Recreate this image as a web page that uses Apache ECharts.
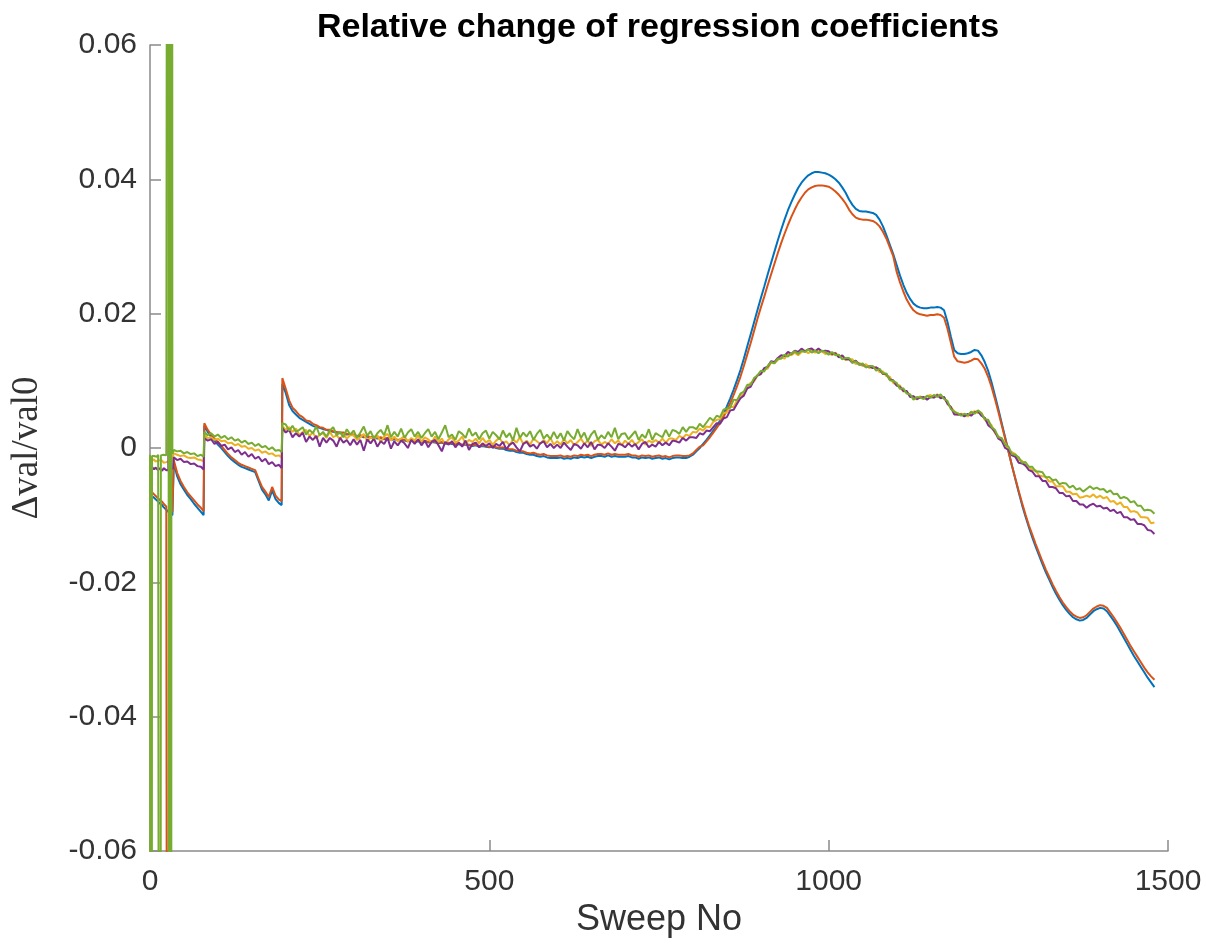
<!DOCTYPE html>
<html>
<head>
<meta charset="utf-8">
<title>Relative change of regression coefficients</title>
<script src="https://cdn.jsdelivr.net/npm/echarts@6/dist/echarts.min.js"></script>
<style>
  html, body { margin: 0; padding: 0; background: #fff; }
  #chart { width: 1206px; height: 949px; }
</style>
</head>
<body>
<div id="chart"></div>
<script>
// Coefficient values are stored in units of 1e-4 (relative change).
const UNIT = 1e-4;

function span(from, to, step) {
  const out = [];
  for (let s = from; s <= to; s += step) out.push(s);
  return out;
}

// Sweep numbers at which the coefficients were sampled
const sweepNo = [
  0, 1, 2, 3, 4, 6, 8, 10, 12, 14, 15, 16, 18, 20, 22, 24, 26, 27, 28, 29, 30, 31, 32, 33, 34,
  ...span(35, 75, 5), 79,
  ...span(80, 190, 5), 194,
  195, ...span(200, 1480, 5)
];

const coefBlue = [
  -68,-70,-69,-72,-71,-74,-75,-78,-79,-82,-82,-84,-85,-88,-89,-92,-93,-95,-95,-97,-98,-97,-99,-100,-101,
  -22,-42,-54,-62,-70,-76,-83,-89,-95,-100,
  33,24,17,11,5,0,-6,-12,-17,-21,-25,-28,-30,-32,-34,-36,-49,-62,-69,-78,-63,-76,-82,-85,
  95,
  82,64,55,50,45,42,39,36,33,31,30,28,27,25,24,23,22,22,20,20,
  19,17,18,16,17,15,16,14,15,13,14,12,13,12,12,11,10,11,9,10,
  9,10,8,9,8,7,8,6,7,6,5,6,4,5,4,3,4,2,3,2,
  1,2,0,-1,-1,-3,-4,-4,-6,-7,-7,-9,-10,-10,-12,-13,-12,-14,-15,-15,
  -15,-14,-16,-15,-16,-14,-15,-13,-14,-13,-15,-13,-12,-12,-13,-11,-13,-12,-13,-13,
  -13,-12,-14,-14,-16,-14,-15,-14,-16,-15,-14,-16,-15,-17,-15,-14,-14,-15,-15,-13,
  -10,-5,0,6,12,19,26,33,41,51,62,74,87,101,116,133,151,169,187,205,
  223,240,258,275,292,309,325,340,354,366,377,387,395,401,406,409,411,411,410,409,
  407,404,400,395,388,380,370,362,356,353,352,352,351,350,347,340,330,317,303,289,
  273,257,243,231,222,215,211,209,208,208,209,209,210,209,205,188,166,146,141,140,
  140,141,143,146,145,138,128,115,98,78,58,37,16,-5,-26,-46,-66,-85,-102,-118,
  -133,-147,-160,-173,-185,-196,-207,-217,-226,-234,-241,-247,-252,-255,-257,-256,-253,-248,-243,-240,
  -238,-239,-243,-250,-257,-265,-274,-283,-292,-301,-310,-318,-326,-334,-342,-349,-356
];

const coefOrange = [
  -63,-64,-65,-66,-66,-69,-70,-73,-74,-77,-77,-79,-80,-83,-84,-87,-88,-3000,-90,-92,-93,-92,-94,-95,-96,
  -18,-37,-49,-58,-66,-72,-78,-84,-89,-94,
  37,27,20,14,9,3,-3,-9,-14,-18,-22,-25,-27,-29,-31,-33,-46,-58,-65,-73,-58,-71,-77,-79,
  104,
  88,71,60,55,49,46,41,40,36,34,31,30,27,27,25,24,23,23,21,21,
  20,18,19,17,18,16,17,15,16,14,15,13,14,12,13,12,11,12,10,11,
  10,11,9,10,9,8,9,7,8,7,6,7,5,6,5,4,5,3,4,3,
  2,3,1,0,1,-1,-2,-2,-4,-5,-5,-7,-8,-7,-9,-10,-9,-11,-12,-12,
  -12,-11,-13,-12,-13,-11,-12,-10,-11,-10,-12,-10,-9,-9,-10,-8,-10,-9,-10,-10,
  -10,-9,-11,-11,-13,-11,-12,-11,-13,-12,-11,-13,-12,-14,-12,-11,-11,-12,-12,-11,
  -8,-3,2,4,10,16,23,30,37,46,56,67,79,92,106,122,139,156,174,192,
  209,225,242,258,274,290,305,319,332,344,355,365,373,380,385,388,390,391,391,390,
  389,386,382,377,371,364,355,348,343,341,340,340,339,338,335,330,322,312,299,286,
  263,247,233,221,212,205,201,199,198,197,198,198,199,198,194,178,157,136,129,128,
  127,128,130,133,132,126,118,106,91,73,54,34,14,-6,-26,-45,-64,-82,-99,-115,
  -129,-143,-156,-169,-181,-192,-203,-213,-222,-230,-237,-243,-248,-251,-253,-252,-249,-244,-239,-236,
  -234,-235,-238,-245,-252,-260,-268,-277,-286,-295,-303,-311,-319,-327,-334,-340,-345
];

const coefYellow = [
  -15,-17,-16,-19,-18,-17,-20,-18,-19,-21,-18,-20,-19,-22,-20,-21,-23,-20,-22,-21,-23,-22,-20,-22,-21,
  -8,-10,-12,-11,-14,-15,-14,-17,-18,-20,
  20,15,16,12,14,10,11,7,8,4,6,2,3,-1,0,-4,-2,-7,-5,-9,-8,-12,-11,-14,
  33,
  27,31,24,29,19,24,27,18,23,14,20,22,15,24,16,19,13,21,14,19,
  19,12,16,21,10,16,13,19,9,17,21,11,17,10,14,18,9,15,11,19,
  9,16,13,8,17,9,14,6,13,16,8,11,17,6,12,9,14,7,15,8,
  12,5,11,15,7,10,4,13,8,16,6,11,5,14,10,6,12,7,15,5,
  10,5,13,7,12,4,9,14,6,11,3,10,12,5,9,6,13,7,11,4,
  11,6,12,5,9,13,5,11,8,12,8,14,8,14,14,12,18,15,20,18,
  24,23,29,26,32,31,39,42,43,52,53,61,61,71,78,80,89,97,99,108,
  110,118,118,127,126,131,135,133,140,138,142,138,143,145,141,146,142,144,144,140,
  142,138,142,136,137,131,132,132,125,127,122,125,119,121,120,113,114,107,106,97,
  94,93,84,84,77,77,72,77,74,77,79,75,80,76,76,66,61,55,49,51,
  50,47,51,55,52,52,42,39,34,22,18,10,7,-3,-6,-9,-18,-19,-27,-28,
  -33,-33,-41,-42,-43,-50,-50,-57,-57,-57,-65,-65,-69,-68,-74,-73,-71,-73,-69,-74,
  -71,-75,-73,-80,-79,-84,-81,-88,-88,-95,-94,-96,-103,-103,-104,-112,-111
];

const coefPurple = [
  -27,-29,-31,-28,-30,-32,-29,-31,-33,-30,-32,-31,-34,-30,-32,-33,-31,-33,-32,510,-3000,-32,-31,-33,-30,
  -14,-18,-16,-21,-20,-24,-23,-27,-28,-32,
  15,11,13,6,9,3,5,-2,1,-6,-3,-10,-6,-13,-9,-16,-13,-20,-16,-24,-21,-27,-25,-30,
  30,
  23,27,16,22,17,23,9,17,12,18,2,15,8,15,11,2,15,8,12,4,
  13,5,12,-4,13,7,14,2,10,6,15,-1,10,4,11,7,0,12,6,13,
  4,11,1,9,12,4,-5,9,5,10,1,8,2,11,-3,6,8,1,7,3,
  7,0,6,3,9,-2,5,8,1,-5,6,9,2,5,-1,7,10,1,6,0,
  5,0,8,2,-3,6,4,-1,7,1,9,-2,5,4,0,7,2,-4,6,5,
  1,7,2,6,-2,6,9,1,5,2,9,4,8,4,11,10,8,15,11,16,
  16,15,22,20,26,25,31,37,36,44,46,56,57,66,74,78,89,91,101,108,
  110,119,121,129,128,134,138,137,143,140,145,143,148,144,147,148,144,148,144,145,
  144,140,141,135,138,132,132,127,130,124,125,120,122,119,120,117,110,110,102,101,
  93,91,85,85,76,77,73,75,76,72,76,75,79,74,76,66,61,50,50,50,
  47,51,48,53,55,48,45,34,30,24,14,11,0,-3,-11,-13,-22,-23,-26,-33,
  -35,-42,-42,-49,-49,-58,-58,-60,-67,-67,-72,-71,-79,-79,-84,-84,-89,-85,-83,-87,
  -86,-90,-89,-94,-92,-97,-95,-103,-103,-107,-106,-113,-113,-115,-122,-123,-128
];

const coefGreen = [
  -10,-11,-3000,-12,-10,-12,-11,-13,-10,-12,-3000,-11,-13,-10,-12,-11,-13,3000,-3000,-12,3000,-3000,3000,-9,-6,
  -3,-5,-4,-8,-6,-9,-8,-12,-10,-13,
  24,19,22,17,20,15,18,13,16,11,13,8,11,6,8,3,6,1,3,-2,1,-4,-3,-6,
  37,
  35,26,33,24,27,31,20,27,22,32,19,24,17,26,31,19,24,16,28,20,
  26,15,23,32,18,25,14,22,27,19,34,16,24,17,29,15,23,28,17,24,
  15,22,28,17,24,13,23,34,16,20,12,25,21,15,29,18,23,13,22,26,
  14,24,19,13,26,16,22,11,30,15,23,17,25,12,21,27,14,20,13,24,
  14,22,11,25,18,13,28,15,23,10,20,26,12,19,14,24,16,30,13,21,
  22,13,19,25,12,20,15,28,12,22,19,16,27,17,27,25,21,31,24,31,
  31,28,36,31,38,45,41,48,46,57,59,60,72,71,81,84,94,94,104,108,
  115,114,122,128,126,133,133,139,136,141,144,140,145,143,147,142,145,141,145,143,
  139,143,138,139,132,134,134,127,129,124,126,120,122,122,115,118,111,111,101,100,
  97,88,89,81,80,72,76,75,73,78,75,79,76,80,73,70,58,54,52,48,
  51,49,54,51,56,52,43,42,31,27,16,15,5,2,-9,-10,-14,-22,-21,-28,
  -28,-35,-35,-36,-44,-43,-48,-47,-54,-52,-53,-59,-56,-62,-60,-65,-61,-57,-61,-59,
  -62,-61,-66,-63,-69,-68,-75,-73,-75,-81,-79,-86,-86,-93,-92,-93,-98
];

const xTickLabels = ['0', '500', '1000', '1500'];
const yTickLabels = ['-0.06', '-0.04', '-0.02', '0', '0.02', '0.04', '0.06'];

const lineColors = ['#0072BD', '#D95319', '#EDB120', '#7E2F8E', '#77AC30'];
const coefSeries = [coefBlue, coefOrange, coefYellow, coefPurple, coefGreen];

coefSeries.forEach((arr, k) => {
  if (arr.length !== sweepNo.length) {
    throw new Error('series ' + k + ' has ' + arr.length + ' values, expected ' + sweepNo.length);
  }
});

const axisGray = '#8a8a8a';
const textGray = '#333333';
const sansFont = "'Liberation Sans', Arial, Helvetica, sans-serif";
const serifFont = 'Liberation Serif';

const chart = echarts.init(document.getElementById('chart'), null, { renderer: 'canvas' });

const option = {
  animation: false,
  backgroundColor: '#ffffff',
  title: {
    text: 'Relative change of regression coefficients',
    left: 653,
    top: 6,
    textAlign: 'center',
    textStyle: { fontFamily: sansFont, fontSize: 34, fontWeight: 'bold', color: '#000000' }
  },
  grid: { left: 150, right: 38, top: 45, bottom: 98, containLabel: false, outerBoundsMode: 'none' },
  xAxis: {
    type: 'value',
    min: 0,
    max: 1500,
    interval: 500,
    name: 'Sweep No',
    nameLocation: 'middle',
    nameGap: 44,
    nameTextStyle: { fontFamily: sansFont, fontSize: 36, color: textGray },
    axisLine: { onZero: false, lineStyle: { color: axisGray, width: 1.5 } },
    axisTick: { inside: true, length: 11, lineStyle: { color: axisGray, width: 1.5 } },
    axisLabel: {
      margin: 16,
      fontFamily: sansFont,
      fontSize: 30,
      color: textGray,
      formatter: v => xTickLabels[Math.round(v / 500)]
    },
    splitLine: { show: false }
  },
  yAxis: {
    type: 'value',
    min: -0.06,
    max: 0.06,
    interval: 0.02,
    name: '\u0394val/val0',
    nameLocation: 'middle',
    nameGap: 104,
    nameRotate: 90,
    nameTextStyle: { fontFamily: serifFont, fontSize: 37, color: textGray },
    axisLine: { onZero: false, lineStyle: { color: axisGray, width: 1.5 } },
    axisTick: { inside: true, length: 11, lineStyle: { color: axisGray, width: 1.5 } },
    axisLabel: {
      margin: 13,
      fontFamily: sansFont,
      fontSize: 30,
      color: textGray,
      formatter: v => yTickLabels[Math.round((v + 0.06) / 0.02)]
    },
    splitLine: { show: false }
  },
  series: coefSeries.map((arr, k) => ({
    type: 'line',
    data: sweepNo.map((s, i) => [s, arr[i] * UNIT]),
    showSymbol: false,
    symbol: 'none',
    clip: true,
    lineStyle: { color: lineColors[k], width: 2 },
    itemStyle: { color: lineColors[k] },
    emphasis: { disabled: true },
    z: 2 + k
  }))
};

chart.setOption(option);
</script>
</body>
</html>
